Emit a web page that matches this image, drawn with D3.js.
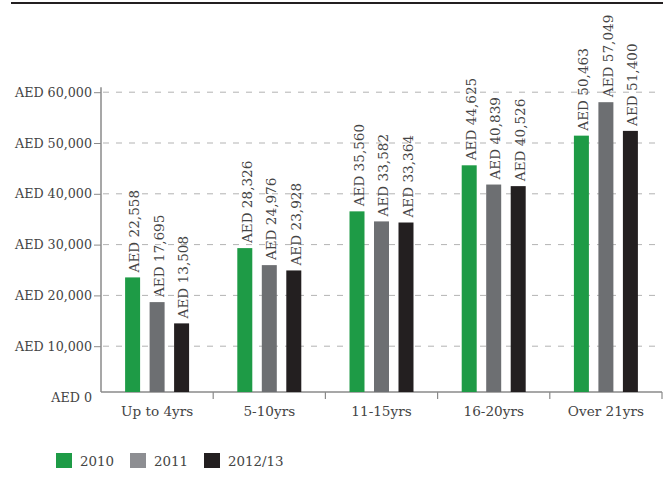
<!DOCTYPE html>
<html>
<head>
<meta charset="utf-8">
<script src="https://cdn.jsdelivr.net/npm/d3@7"></script>
<style>
  body { margin: 0; background: #fff; }
  svg { display: block; }
  text { font-family: "DejaVu Serif", serif; fill: #444; }
</style>
</head>
<body>
<svg id="chart" width="672" height="499"></svg>
<script>
// Average fee by years of service, AED
const categories = ["Up to 4yrs", "5-10yrs", "11-15yrs", "16-20yrs", "Over 21yrs"];
const seriesNames = ["2010", "2011", "2012/13"];
const values2010 = [22558, 28326, 35560, 44625, 50463];
const values2011 = [17695, 24976, 33582, 40839, 57049];
const values2012 = [13508, 23928, 33364, 40526, 51400];
const yTicks = [0, 10000, 20000, 30000, 40000, 50000, 60000];

const barColors = ["#1e9b46", "#6d6f72", "#231f20"];
const legendColors = ["#1e9b46", "#8d8e92", "#231f20"];
const seriesValues = [values2010, values2011, values2012];

const svg = d3.select("#chart");

const plotLeft = 101, plotRight = 662, plotBottom = 392, plotTop = 87.2;
const labelShift = 5; // tick labels and grid sit a little below the value positions

const x0 = d3.scaleBand().domain(categories).range([plotLeft, plotRight]).padding(0);
const x1 = d3.scaleBand().domain(seriesNames).range([0, x0.bandwidth()])
  .paddingInner(0.388).paddingOuter(0.984);
const y = d3.scaleLinear().domain([0, 60000]).range([plotBottom, plotTop]);
const fmt = d3.format(",");

// top rule
svg.append("line")
  .attr("x1", 11).attr("x2", 663).attr("y1", 3).attr("y2", 3)
  .attr("stroke", "#231f20").attr("stroke-width", 2);

// dashed gridlines
svg.append("g").selectAll("line")
  .data(yTicks.filter(d => d > 0))
  .join("line")
  .attr("x1", plotLeft + 2).attr("x2", plotRight)
  .attr("y1", d => y(d) + labelShift).attr("y2", d => y(d) + labelShift)
  .attr("stroke", "#b3b3b3").attr("stroke-width", 1)
  .attr("stroke-dasharray", "6,7");

// y axis
const yAxis = svg.append("g")
  .attr("transform", `translate(${plotLeft},${labelShift})`)
  .call(d3.axisLeft(y).tickValues(yTicks).tickSize(7).tickPadding(2)
    .tickFormat(d => "AED " + fmt(d)));
yAxis.select(".domain").remove();
yAxis.selectAll(".tick line").attr("stroke", "#8a8a8a")
  .attr("display", d => d === 0 ? "none" : null);
yAxis.selectAll(".tick text")
  .style("font-family", "'DejaVu Serif', serif")
  .attr("font-size", 12.7).attr("fill", "#444");

svg.append("line")
  .attr("x1", plotLeft).attr("x2", plotLeft).attr("y1", y(60000)).attr("y2", plotBottom)
  .attr("stroke", "#8a8a8a").attr("stroke-width", 1.5);

// x axis line and band separators
svg.append("line")
  .attr("x1", plotLeft).attr("x2", plotRight).attr("y1", plotBottom).attr("y2", plotBottom)
  .attr("stroke", "#8a8a8a").attr("stroke-width", 1.3);
svg.append("g").selectAll("line")
  .data(categories)
  .join("line")
  .attr("x1", d => x0(d) + x0.bandwidth()).attr("x2", d => x0(d) + x0.bandwidth())
  .attr("y1", plotBottom).attr("y2", plotBottom + 7)
  .attr("stroke", "#8a8a8a").attr("stroke-width", 1.2);

svg.append("g").selectAll("text")
  .data(categories)
  .join("text")
  .attr("x", d => x0(d) + x0.bandwidth() / 2)
  .attr("y", 416)
  .attr("text-anchor", "middle")
  .attr("font-size", 13.6)
  .text(d => d);

// bars and rotated value labels
const barData = [];
categories.forEach((c, i) => {
  seriesNames.forEach((s, j) => {
    barData.push({ cat: c, series: s, idx: j, value: seriesValues[j][i] });
  });
});

const bars = svg.append("g");
bars.selectAll("rect")
  .data(barData)
  .join("rect")
  .attr("x", d => x0(d.cat) + x1(d.series))
  .attr("y", d => y(d.value))
  .attr("width", x1.bandwidth())
  .attr("height", d => plotBottom - y(d.value))
  .attr("fill", d => barColors[d.idx]);

bars.selectAll("text")
  .data(barData)
  .join("text")
  .attr("transform", d => {
    const cx = x0(d.cat) + x1(d.series) + x1.bandwidth() / 2 + 2;
    return `translate(${cx},${y(d.value) - 5}) rotate(-90)`;
  })
  .attr("dy", "0.35em")
  .attr("font-size", 13.6)
  .text(d => "AED " + fmt(d.value));

// legend
const legend = svg.append("g").attr("transform", "translate(56,453)");
const legendX = [0, 74, 148];
seriesNames.forEach((s, j) => {
  const g = legend.append("g").attr("transform", `translate(${legendX[j]},0)`);
  g.append("rect").attr("width", 16).attr("height", 15).attr("fill", legendColors[j]);
  g.append("text").attr("x", 24).attr("y", 12.5).attr("font-size", 13.4)
    .attr("fill", "#4a4a4a").text(s);
});
</script>
</body>
</html>
